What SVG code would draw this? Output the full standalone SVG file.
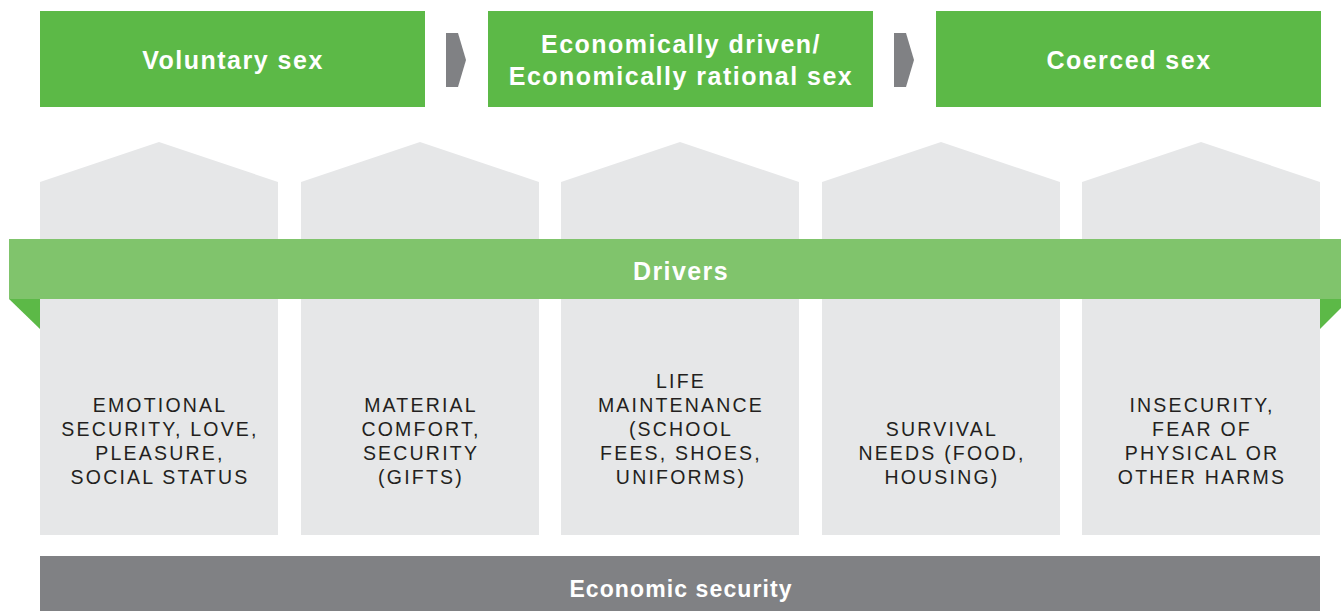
<svg xmlns="http://www.w3.org/2000/svg" width="1341" height="611" viewBox="0 0 1341 611">
<style>
.top{fill:#5cb947}
.hdr{font-family:"Liberation Sans",Arial,sans-serif;font-weight:bold;font-size:25px;letter-spacing:1.5px;fill:#fff;text-anchor:middle}
.chev{fill:#808184}
.house{fill:#e6e7e8}
.lbl{font-family:"Liberation Sans",Arial,sans-serif;font-size:19.5px;letter-spacing:2.2px;fill:#231f20;text-anchor:middle}
.band{font-family:"Liberation Sans",Arial,sans-serif;font-weight:bold;font-size:23px;letter-spacing:1.1px;fill:#fff;text-anchor:middle}
</style>
<rect width="1341" height="611" fill="#fff"/>
<g id="stage1"><rect class="top" x="40" y="11" width="385" height="96"/><text class="hdr" x="233" y="69">Voluntary sex</text></g>
<g id="stage2"><rect class="top" x="488" y="11" width="385" height="96"/><text class="hdr" x="681" y="53">Economically driven/</text><text class="hdr" x="681" y="85">Economically rational sex</text></g>
<g id="stage3"><rect class="top" x="936" y="11" width="385" height="96"/><text class="hdr" x="1129" y="69">Coerced sex</text></g>
<g id="connectors">
<polygon class="chev" points="446,33 458,33 466,60 458,87 446,87"/>
<polygon class="chev" points="894,33 906,33 914,60 906,87 894,87"/>
</g>
<g id="house1"><polygon class="house" points="40,182 159,142 278,182 278,535 40,535"/>
<text class="lbl" x="160" y="412">EMOTIONAL</text><text class="lbl" x="160" y="436">SECURITY, LOVE,</text><text class="lbl" x="160" y="460">PLEASURE,</text><text class="lbl" x="160" y="484">SOCIAL STATUS</text></g>
<g id="house2"><polygon class="house" points="301,182 420,142 539,182 539,535 301,535"/>
<text class="lbl" x="421" y="412">MATERIAL</text><text class="lbl" x="421" y="436">COMFORT,</text><text class="lbl" x="421" y="460">SECURITY</text><text class="lbl" x="421" y="484">(GIFTS)</text></g>
<g id="house3"><polygon class="house" points="561,182 680,142 799,182 799,535 561,535"/>
<text class="lbl" x="681" y="388">LIFE</text><text class="lbl" x="681" y="412">MAINTENANCE</text><text class="lbl" x="681" y="436">(SCHOOL</text><text class="lbl" x="681" y="460">FEES, SHOES,</text><text class="lbl" x="681" y="484">UNIFORMS)</text></g>
<g id="house4"><polygon class="house" points="822,182 941,142 1060,182 1060,535 822,535"/>
<text class="lbl" x="942" y="436">SURVIVAL</text><text class="lbl" x="942" y="460">NEEDS (FOOD,</text><text class="lbl" x="942" y="484">HOUSING)</text></g>
<g id="house5"><polygon class="house" points="1082,182 1201,142 1320,182 1320,535 1082,535"/>
<text class="lbl" x="1202" y="412">INSECURITY,</text><text class="lbl" x="1202" y="436">FEAR OF</text><text class="lbl" x="1202" y="460">PHYSICAL OR</text><text class="lbl" x="1202" y="484">OTHER HARMS</text></g>
<g id="drivers">
<polygon points="9,299 40,299 40,329" fill="#5cb947"/>
<polygon points="1320,299 1350,299 1320,329" fill="#5cb947"/>
<rect x="9" y="239" width="1332" height="60" fill="#80c46c"/>
<text class="band" x="681" y="280" style="font-size:25px;letter-spacing:1.4px">Drivers</text>
</g>
<g id="economic"><rect x="40" y="556" width="1280" height="55" fill="#808184"/><text class="band" x="681" y="597">Economic security</text></g>
</svg>
